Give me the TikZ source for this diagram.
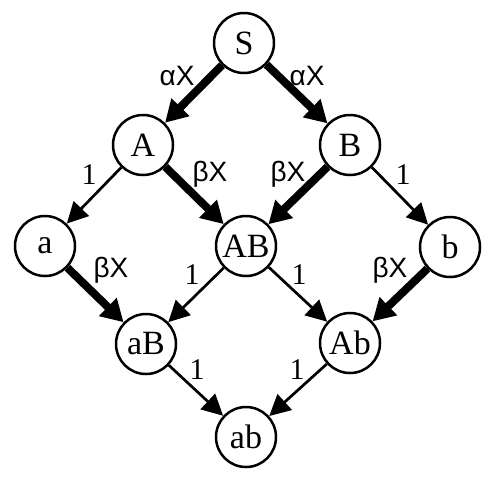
\documentclass[tikz,border=0pt]{standalone}
\usepackage{fontspec}
\setmainfont{Liberation Serif}
\newfontfamily\ratefont{Liberation Sans}
\usepackage{tikz}
\usetikzlibrary{arrows.meta}

\begin{document}
\begin{tikzpicture}[x=0.5pt, y=-0.5pt,
    state/.style={circle, draw, line width=1.25pt, minimum size=30pt, inner sep=0pt, font=\fontsize{17}{19}\selectfont},
    weak/.style={line width=1.35pt, -{Triangle[length=10.5pt, width=10.5pt]}},
    strong/.style={line width=4pt, -{Triangle[length=11pt, width=12pt]}},
    rate/.style={font=\ratefont\fontsize{14}{16}\selectfont},
    unit/.style={font=\fontsize{15}{17}\selectfont}]
      \useasboundingbox (0,0) rectangle (496,483);
      % States
      \node[state] (S) at (244,43) {S};
      \node[state] (A) at (143,145) {A};
      \node[state] (B) at (350,145) {B};
      \node[state] (a) at (45,246) {a};
      \node[state] (AB) at (246,246) {AB};
      \node[state] (b) at (450,247) {b};
      \node[state] (aB) at (146,344) {aB};
      \node[state] (Ab) at (350,343) {Ab};
      \node[state] (ab) at (246,437) {ab};
      % Transitions
      \draw[strong] (S) -- (A);
      \draw[strong] (S) -- (B);
      \draw[weak] (A) -- (a);
      \draw[strong] (A) -- (AB);
      \draw[strong] (B) -- (AB);
      \draw[weak] (B) -- (b);
      \draw[strong] (a) -- (aB);
      \draw[weak] (AB) -- (aB);
      \draw[weak] (AB) -- (Ab);
      \draw[strong] (b) -- (Ab);
      \draw[weak] (aB) -- (ab);
      \draw[weak] (Ab) -- (ab);
      % Rates
      \node[rate] (rSA) at (177,76) {αX};
      \node[rate] (rSB) at (307,76) {αX};
      \node[unit] (rAa) at (89,175) {1};
      \node[rate] (rAAB) at (210,174) {βX};
      \node[rate] (rBAB) at (288,174) {βX};
      \node[unit] (rBb) at (403,175) {1};
      \node[rate] (raaB) at (111,270) {βX};
      \node[unit] (rABaB) at (192,275) {1};
      \node[unit] (rABAb) at (299,275) {1};
      \node[rate] (rbAb) at (390,270) {βX};
      \node[unit] (raBab) at (197,370) {1};
      \node[unit] (rAbab) at (297,370) {1};
\end{tikzpicture}
\end{document}
